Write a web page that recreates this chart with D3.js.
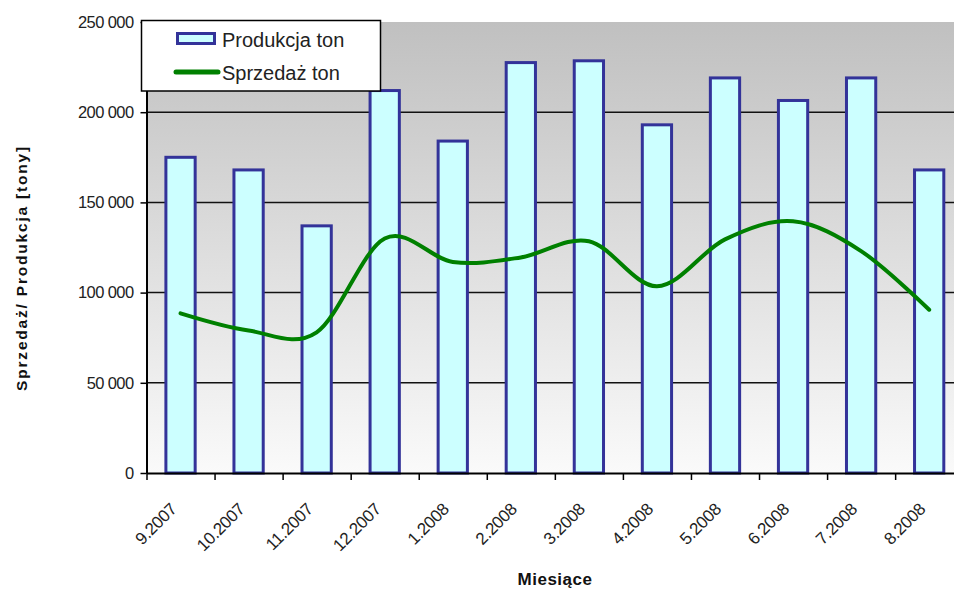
<!DOCTYPE html>
<html>
<head>
<meta charset="utf-8">
<script src="https://cdn.jsdelivr.net/npm/d3@7"></script>
<style>
  body { margin: 0; background: #fff; }
  text { font-family: "Liberation Sans", Arial, sans-serif; }
</style>
</head>
<body>
<div id="chart"></div>
<script>
// data
const months = ["9.2007", "10.2007", "11.2007", "12.2007", "1.2008", "2.2008",
                "3.2008", "4.2008", "5.2008", "6.2008", "7.2008", "8.2008"];
const produkcja = [175000, 168000, 137000, 212000, 184000, 227500,
                   228500, 193000, 219000, 206500, 219000, 168000];
const sprzedaz = [88500, 79000, 78000, 130000, 117000, 119500,
                  128500, 103500, 129500, 139500, 123000, 90500];
const yTicks = [0, 50000, 100000, 150000, 200000, 250000];

const width = 954, height = 589;
const plotLeft = 146.5, plotRight = 963.2, plotTop = 22, plotBottom = 473;

const svg = d3.select("#chart").append("svg")
  .attr("width", width)
  .attr("height", height);

// scales
const x = d3.scaleBand()
  .domain(months)
  .range([plotLeft, plotRight])
  .paddingInner(0.57)
  .paddingOuter(0.285);

const xEdge = d3.scaleLinear()
  .domain([0, months.length])
  .range([plotLeft, plotRight]);

const y = d3.scaleLinear()
  .domain([0, 250000])
  .range([plotBottom, plotTop]);

// plot background gradient
const grad = svg.append("defs").append("linearGradient")
  .attr("id", "bg")
  .attr("x1", 0).attr("y1", 0).attr("x2", 0).attr("y2", 1);
grad.append("stop").attr("offset", "0%").attr("stop-color", "#c0c0c0");
grad.append("stop").attr("offset", "100%").attr("stop-color", "#fafafa");

svg.append("rect")
  .attr("x", plotLeft)
  .attr("y", plotTop)
  .attr("width", plotRight - plotLeft)
  .attr("height", plotBottom - plotTop)
  .attr("fill", "url(#bg)");

// gridlines
svg.append("g")
  .selectAll("line")
  .data(yTicks.filter(d => d > 0 && d < 250000))
  .join("line")
  .attr("x1", plotLeft)
  .attr("x2", plotRight)
  .attr("y1", d => y(d))
  .attr("y2", d => y(d))
  .attr("stroke", "#111")
  .attr("stroke-width", 1.5);

// bars
svg.append("g")
  .selectAll("rect")
  .data(produkcja)
  .join("rect")
  .attr("x", (d, i) => x(months[i]))
  .attr("y", d => y(d))
  .attr("width", x.bandwidth())
  .attr("height", d => y(0) - y(d))
  .attr("fill", "#ccffff")
  .attr("stroke", "#333399")
  .attr("stroke-width", 3);

// smoothed sales line
const lineGen = d3.line()
  .x((d, i) => x(months[i]) + x.bandwidth() / 2)
  .y(d => y(d))
  .curve(d3.curveCardinal.tension(0));

svg.append("path")
  .datum(sprzedaz)
  .attr("d", lineGen)
  .attr("fill", "none")
  .attr("stroke", "#008000")
  .attr("stroke-width", 4)
  .attr("stroke-linecap", "round");

// y axis
const fmt = v => d3.format(",")(v).replace(/,/g, " ");
const yAxis = svg.append("g")
  .attr("transform", `translate(${plotLeft},0)`)
  .call(d3.axisLeft(y).tickValues(yTicks).tickFormat(fmt).tickSize(6).tickSizeOuter(0));
yAxis.select(".domain").attr("stroke", "#000").attr("stroke-width", 2);
yAxis.selectAll(".tick line").attr("stroke", "#000").attr("stroke-width", 1.5);
yAxis.selectAll(".tick text")
  .attr("x", -13)
  .attr("fill", "#222")
  .style("font-size", "16.5px")
  .style("font-family", "'Liberation Sans', Arial, sans-serif")
  .style("letter-spacing", "-0.6px");

// x axis (ticks on the category boundaries)
const xAxis = svg.append("g")
  .attr("transform", `translate(0,${plotBottom})`)
  .call(d3.axisBottom(xEdge).tickValues(d3.range(months.length + 1))
    .tickFormat("").tickSize(7).tickSizeOuter(0));
xAxis.select(".domain").attr("stroke", "#000").attr("stroke-width", 2);
xAxis.selectAll(".tick line").attr("stroke", "#000").attr("stroke-width", 1.5);

// rotated month labels
svg.append("g")
  .selectAll("text")
  .data(months)
  .join("text")
  .attr("transform", d => `translate(${x(d) + x.bandwidth() / 2 - 7},${plotBottom + 33}) rotate(-45)`)
  .attr("text-anchor", "end")
  .attr("dy", "0.35em")
  .attr("fill", "#222")
  .style("font-size", "17px")
  .style("letter-spacing", "-0.3px")
  .text(d => d);

// axis titles
svg.append("text")
  .attr("x", 555)
  .attr("y", 585)
  .attr("text-anchor", "middle")
  .attr("font-weight", "bold")
  .style("font-size", "17px")
  .style("letter-spacing", "0.5px")
  .attr("fill", "#111")
  .text("Miesiące");

svg.append("text")
  .attr("transform", "translate(27,268) rotate(-90)")
  .attr("text-anchor", "middle")
  .attr("font-weight", "bold")
  .style("font-size", "15.5px")
  .style("letter-spacing", "1.8px")
  .attr("fill", "#111")
  .text("Sprzedaż/ Produkcja [tony]");

// legend
const legend = svg.append("g");
legend.append("rect")
  .attr("x", 141.5).attr("y", 20.5)
  .attr("width", 239).attr("height", 70.5)
  .attr("fill", "#fff")
  .attr("stroke", "#000")
  .attr("stroke-width", 1.5);

legend.append("rect")
  .attr("x", 177.5).attr("y", 33.5)
  .attr("width", 37).attr("height", 10)
  .attr("fill", "#ccffff")
  .attr("stroke", "#333399")
  .attr("stroke-width", 3);

legend.append("line")
  .attr("x1", 176).attr("x2", 218)
  .attr("y1", 72).attr("y2", 72)
  .attr("stroke", "#008000")
  .attr("stroke-width", 5)
  .attr("stroke-linecap", "round");

legend.append("text")
  .attr("x", 222).attr("y", 47)
  .style("font-size", "20px")
  .attr("fill", "#222")
  .text("Produkcja ton");

legend.append("text")
  .attr("x", 222).attr("y", 80)
  .style("font-size", "20px")
  .attr("fill", "#222")
  .text("Sprzedaż ton");
</script>
</body>
</html>
